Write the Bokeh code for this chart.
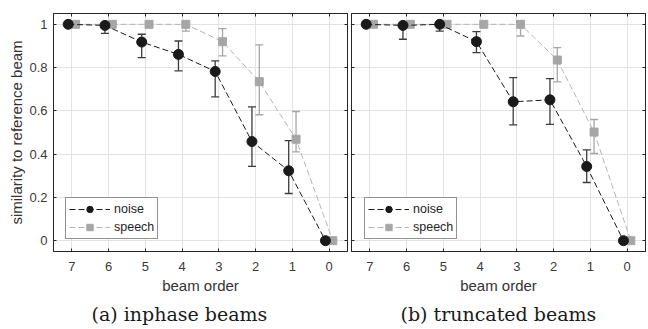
import numpy as np
from bokeh.plotting import figure
from bokeh.models import (Range1d, LinearAxis, FixedTicker, Grid, ColumnDataSource, Whisker,
                          TeeHead, Legend, LegendItem, Title, CustomJSTickFormatter)
from bokeh.layouts import row
from bokeh.embed import file_html
from bokeh.resources import INLINE

# ---------------- data ----------------
orders = [7, 6, 5, 4, 3, 2, 1, 0]
y_ticks = [0, 0.2, 0.4, 0.6, 0.8, 1.0]

# (a) inphase beams
inphase_noise_mean = [1.0, 0.995, 0.918, 0.861, 0.782, 0.458, 0.323, 0.0]
inphase_noise_low = [1.0, 0.958, 0.846, 0.785, 0.665, 0.343, 0.218, 0.0]
inphase_noise_high = [1.0, 1.0, 0.954, 0.923, 0.831, 0.618, 0.462, 0.0]
inphase_speech_mean = [1.0, 1.0, 1.0, 1.0, 0.920, 0.735, 0.469, 0.0]
inphase_speech_low = [1.0, 1.0, 1.0, 0.969, 0.854, 0.582, 0.410, 0.0]
inphase_speech_high = [1.0, 1.0, 1.0, 1.0, 0.980, 0.905, 0.597, 0.0]

# (b) truncated beams
trunc_noise_mean = [1.0, 0.995, 1.0, 0.920, 0.642, 0.651, 0.343, 0.0]
trunc_noise_low = [1.0, 0.931, 0.969, 0.869, 0.535, 0.538, 0.269, 0.0]
trunc_noise_high = [1.0, 1.0, 1.0, 0.966, 0.754, 0.749, 0.420, 0.0]
trunc_speech_mean = [1.0, 1.0, 1.0, 1.0, 1.0, 0.835, 0.502, 0.0]
trunc_speech_low = [1.0, 1.0, 1.0, 1.0, 0.946, 0.734, 0.403, 0.0]
trunc_speech_high = [1.0, 1.0, 1.0, 1.0, 1.0, 0.892, 0.560, 0.0]

captions = ["(a)  inphase beams", "(b)  truncated beams"]
x_label = "beam order"
y_label = "similarity to reference beam"

# ---------------- style ----------------
SANS = "Liberation Sans"
SERIF = "DejaVu Serif"
FRAME = "#262626"
TICK_TXT = "#3a3a3a"
GRID = "#e3e3e3"
NOISE = "#1a1a1a"
NOISE_ERR = "#3c3c3c"
SPEECH = "#a6a6a6"
SPEECH_LINE = "#b4b4b4"

FRAME_W, FRAME_H = 294, 238
OFFSET = 0.1


def make_panel(noise, speech, caption, first):
    p = figure(frame_width=FRAME_W, frame_height=FRAME_H,
               x_range=Range1d(7.5, -0.5), y_range=Range1d(-0.05, 1.05),
               x_axis_type=None, y_axis_type=None,
               output_backend="svg", toolbar_location=None,
               min_border_left=53 if first else 2,
               min_border_right=2 if first else 3,
               min_border_top=13, min_border_bottom=78)
    p.outline_line_color = FRAME
    p.outline_line_width = 1
    p.background_fill_color = "white"
    p.border_fill_color = "white"

    xt = FixedTicker(ticks=orders, minor_ticks=[])
    yt = FixedTicker(ticks=y_ticks, minor_ticks=[])

    def style_axis(ax):
        ax.axis_line_color = FRAME
        ax.major_tick_line_color = FRAME
        ax.major_tick_in = 3
        ax.major_tick_out = 0
        ax.minor_tick_line_color = None

    def hide_labels(ax):
        ax.major_label_text_color = None
        ax.major_label_text_font_size = "1px"
        ax.major_label_standoff = 0

    xb = LinearAxis(ticker=xt, axis_label=x_label)
    style_axis(xb)
    xb.major_label_text_font = SANS
    xb.major_label_text_font_size = "13px"
    xb.major_label_text_color = TICK_TXT
    xb.major_label_standoff = 10
    xb.axis_label_text_font = SANS
    xb.axis_label_text_font_size = "15px"
    xb.axis_label_text_font_style = "normal"
    xb.axis_label_text_color = "#333333"
    xb.axis_label_standoff = 3
    p.add_layout(xb, "below")

    yl = LinearAxis(ticker=yt)
    style_axis(yl)
    if first:
        yl.formatter = CustomJSTickFormatter(code="return tick.toFixed(1).replace(/\\.0$/, '');")
        yl.major_label_text_font = SANS
        yl.major_label_text_font_size = "13px"
        yl.major_label_text_color = TICK_TXT
        yl.major_label_standoff = 6
        yl.axis_label = y_label
        yl.axis_label_text_font = SANS
        yl.axis_label_text_font_size = "15px"
        yl.axis_label_text_font_style = "normal"
        yl.axis_label_text_color = "#333333"
        yl.axis_label_standoff = 1
    else:
        hide_labels(yl)
    p.add_layout(yl, "left")

    xa = LinearAxis(ticker=xt)
    style_axis(xa)
    hide_labels(xa)
    p.add_layout(xa, "above")

    yr = LinearAxis(ticker=yt)
    style_axis(yr)
    hide_labels(yr)
    p.add_layout(yr, "right")

    p.add_layout(Grid(dimension=0, ticker=xt, grid_line_color=GRID, grid_line_width=1, level="underlay"))
    p.add_layout(Grid(dimension=1, ticker=yt, grid_line_color=GRID, grid_line_width=1, level="underlay"))

    legend_items = []
    # reversed x axis: a positive data offset moves a point to the left on screen
    specs = [
        (speech, -OFFSET, SPEECH, SPEECH_LINE, SPEECH, "square", 8, "speech"),
        (noise, +OFFSET, NOISE, NOISE, NOISE_ERR, "circle", 10, "noise"),
    ]
    for (mean, low, high), off, mcol, lcol, ecol, marker, msize, name in specs:
        src = ColumnDataSource(dict(x=[o + off for o in orders], y=mean, lower=low, upper=high))
        w = Whisker(source=src, base="x", lower="lower", upper="upper", dimension="height",
                    line_color=ecol, line_width=1.3, level="underlay",
                    lower_head=TeeHead(size=8, line_color=ecol, line_width=1.3),
                    upper_head=TeeHead(size=8, line_color=ecol, line_width=1.3))
        p.add_layout(w)
        ln = p.line("x", "y", source=src, line_color=lcol, line_width=1, line_dash="6 3")
        sc = p.scatter("x", "y", source=src, marker=marker, size=msize,
                       fill_color=mcol, line_color=mcol)
        legend_items.append((name, [ln, sc]))

    legend_items = legend_items[::-1]
    leg = Legend(items=[LegendItem(label=n, renderers=r) for n, r in legend_items],
                 location=(12, 12) if first else (13, 12), margin=0,
                 padding=3, spacing=2, glyph_width=41, glyph_height=16,
                 label_height=16, label_standoff=4,
                 label_text_font=SANS, label_text_font_size="12.5px",
                 label_text_color="#262626",
                 border_line_color=FRAME, border_line_width=1,
                 background_fill_color="white", background_fill_alpha=1)
    p.add_layout(leg, "center")

    cap = Title(text=caption, align="left", offset=38 if first else 49, standoff=9,
                text_font=SERIF, text_font_size="19px", text_font_style="normal",
                text_color="#1a1a1a")
    p.add_layout(cap, "below")
    return p


p1 = make_panel((inphase_noise_mean, inphase_noise_low, inphase_noise_high),
                (inphase_speech_mean, inphase_speech_low, inphase_speech_high),
                captions[0], True)
p2 = make_panel((trunc_noise_mean, trunc_noise_low, trunc_noise_high),
                (trunc_speech_mean, trunc_speech_low, trunc_speech_high),
                captions[1], False)

layout = row(p1, p2, spacing=0)
open("out.html", "w").write(file_html(layout, INLINE))
